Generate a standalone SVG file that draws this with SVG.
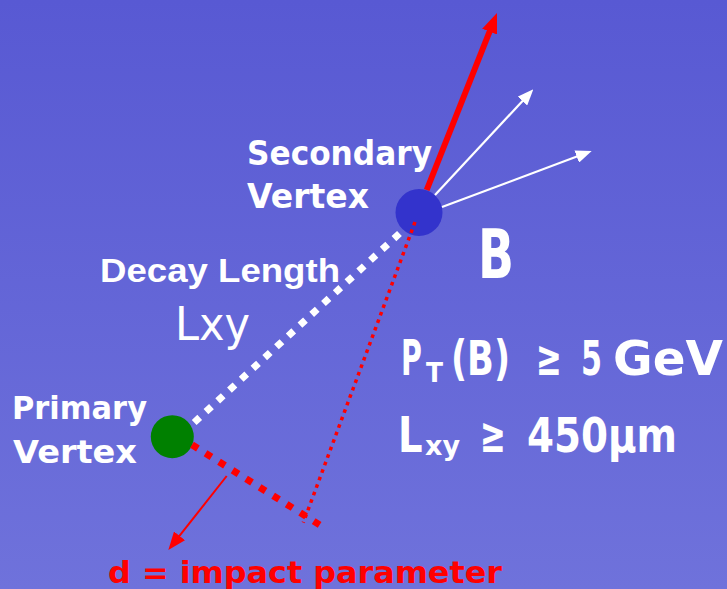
<svg xmlns="http://www.w3.org/2000/svg" width="727" height="589" viewBox="0 0 727 589">
<defs>
<linearGradient id="bg" x1="0" y1="0" x2="0" y2="1">
<stop offset="0" stop-color="#5859d3"/>
<stop offset="1" stop-color="#6f72db"/>
</linearGradient>
<marker id="headRedBig" viewBox="0 0 20 16" markerUnits="userSpaceOnUse" markerWidth="20" markerHeight="16" refX="6" refY="8" orient="auto">
<path d="M0,0 L20,8 L0,16 z" fill="#ff0000"/>
</marker>
<marker id="headWhite" viewBox="0 0 16 13" markerUnits="userSpaceOnUse" markerWidth="16" markerHeight="13" refX="8" refY="6.5" orient="auto">
<path d="M0,0 L16,6.5 L0,13 z" fill="#ffffff"/>
</marker>
<marker id="headRed" viewBox="0 0 18 14" markerUnits="userSpaceOnUse" markerWidth="18" markerHeight="14" refX="10" refY="7" orient="auto">
<path d="M0,0 L18,7 L0,14 z" fill="#ff0000"/>
</marker>
</defs>
<style>
.lbl{font-family:"DejaVu Sans","Liberation Sans",sans-serif;font-weight:bold;fill:#ffffff}
.thin{font-family:"DejaVu Sans","Liberation Sans",sans-serif;font-weight:normal;fill:#ffffff}
.arial{font-family:"Liberation Sans",Arial,sans-serif;font-weight:bold;fill:#ffffff}
.red{font-family:"DejaVu Sans","Liberation Sans",sans-serif;font-weight:bold;fill:#ff0000}
</style>
<rect x="0" y="0" width="727" height="589" fill="url(#bg)"/>

<g id="secondary-vertex">
<circle cx="419" cy="212.5" r="23.5" fill="#3333cc"/>
<text class="lbl" x="247" y="165" font-size="33" textLength="185" lengthAdjust="spacingAndGlyphs">Secondary</text>
<text class="lbl" x="247" y="208" font-size="33" textLength="122" lengthAdjust="spacingAndGlyphs">Vertex</text>
</g>

<g id="primary-vertex">
<circle cx="172.3" cy="436.7" r="21.5" fill="#008000"/>
<text class="lbl" x="12" y="419" font-size="32" textLength="135" lengthAdjust="spacingAndGlyphs">Primary</text>
<text class="lbl" x="13" y="463" font-size="32" textLength="124" lengthAdjust="spacingAndGlyphs">Vertex</text>
</g>

<g id="connectors" fill="none">
<line x1="194.2" y1="422.5" x2="399.5" y2="233.5" stroke="#ffffff" stroke-width="7" stroke-dasharray="7.5 8.47"/>
<line x1="192" y1="444.8" x2="319.7" y2="524.9" stroke="#ff0000" stroke-width="7" stroke-dasharray="7 8.96"/>
<line x1="415" y1="222" x2="303.3" y2="522.7" stroke="#ff0000" stroke-width="3.5" stroke-dasharray="3.5 4.5"/>
<line x1="426.7" y1="190" x2="491.8" y2="26" stroke="#ff0000" stroke-width="6" marker-end="url(#headRedBig)"/>
<line x1="435" y1="195" x2="527.9" y2="95.2" stroke="#ffffff" stroke-width="2.2" marker-end="url(#headWhite)"/>
<line x1="442" y1="207" x2="584.2" y2="153.8" stroke="#ffffff" stroke-width="2.2" marker-end="url(#headWhite)"/>
<line x1="226.7" y1="476" x2="173.3" y2="543.7" stroke="#ff0000" stroke-width="2" marker-end="url(#headRed)"/>
</g>

<g id="decay-length-label">
<text class="arial" x="100" y="282" font-size="33" textLength="240" lengthAdjust="spacingAndGlyphs">Decay Length</text>
<text class="thin" x="175" y="340" font-size="47" textLength="75" lengthAdjust="spacingAndGlyphs">Lxy</text>
</g>

<g id="b-label">
<text class="lbl" x="478" y="278" font-size="68" textLength="36" lengthAdjust="spacingAndGlyphs">B</text>
</g>

<g id="cuts">
<text class="lbl" font-size="50" transform="matrix(0.57 0 0 1 401 375)">P</text>
<text class="lbl" font-size="50"><tspan x="426" y="382" font-size="27" textLength="17" lengthAdjust="spacingAndGlyphs">T</tspan><tspan x="451" y="375" font-size="48" textLength="59" lengthAdjust="spacingAndGlyphs">(B)</tspan><tspan x="536" y="375" textLength="26" lengthAdjust="spacingAndGlyphs">≥</tspan><tspan x="581" y="375" font-size="48" textLength="21" lengthAdjust="spacingAndGlyphs">5</tspan><tspan x="613" y="375" font-size="48" textLength="110" lengthAdjust="spacingAndGlyphs">GeV</tspan></text>
<text class="lbl" font-size="50" transform="matrix(0.77 0 0 1 398 452)">L</text>
<text class="lbl" font-size="50"><tspan x="425" y="455" font-size="27" textLength="35" lengthAdjust="spacingAndGlyphs">xy</tspan><tspan x="480" y="452" textLength="26" lengthAdjust="spacingAndGlyphs">≥</tspan><tspan x="527" y="452" font-size="48" textLength="150" lengthAdjust="spacingAndGlyphs">450μm</tspan></text>
</g>

<g id="impact-label">
<text class="red" x="108" y="583" font-size="30" textLength="394" lengthAdjust="spacingAndGlyphs">d = impact parameter</text>
</g>
</svg>
